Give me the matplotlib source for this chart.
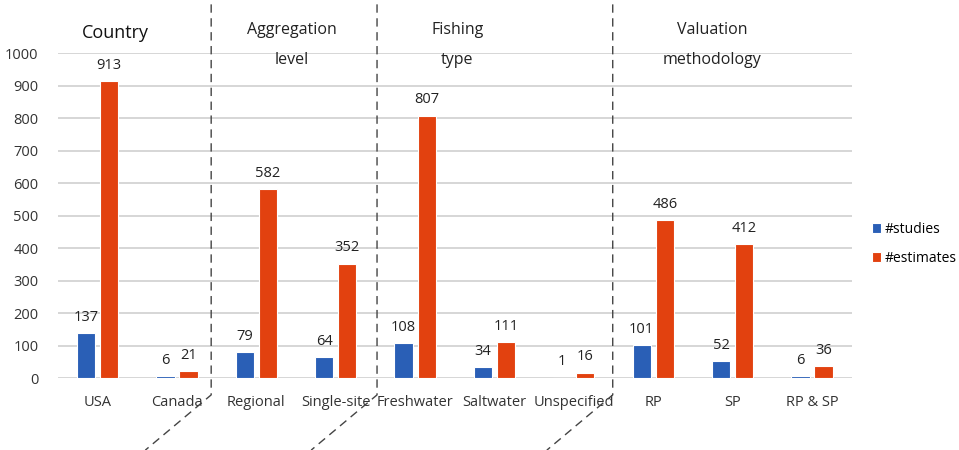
import matplotlib.pyplot as plt
import numpy as np

plt.rcParams['font.family'] = ['Open Sans', 'DejaVu Sans']

categories = ['USA', 'Canada', 'Regional', 'Single-site', 'Freshwater',
              'Saltwater', 'Unspecified', 'RP', 'SP', 'RP & SP']
studies = [137, 6, 79, 64, 108, 34, 1, 101, 52, 6]
estimates = [913, 21, 582, 352, 807, 111, 16, 486, 412, 36]
group_titles = [('Country', 0.22), ('Aggregation\nlevel', 2.45),
                ('Fishing\ntype', 4.53), ('Valuation\nmethodology', 7.74)]
separators = [1.43, 3.52, 6.49]

blue = '#2A5FB6'
red = '#E2410F'

fig = plt.figure(figsize=(9.59, 4.5), dpi=100)
ax = fig.add_axes([0.0605, 0.16, 0.8275, 0.722])

x = np.arange(len(categories))
w = 0.23
b1 = ax.bar(x - 0.145, studies, w, color=blue, edgecolor='white', linewidth=0.8,
            label='#studies', zorder=3)
b2 = ax.bar(x + 0.145, estimates, w, color=red, edgecolor='white', linewidth=0.8,
            label='#estimates', zorder=3)

for bars, vals in ((b1, studies), (b2, estimates)):
    for rect, v in zip(bars, vals):
        ax.annotate(str(v), (rect.get_x() + rect.get_width() / 2, v),
                    xytext=(0, 6), textcoords='offset points',
                    ha='center', va='bottom', fontsize=10.5, color='#222222')

ax.set_xlim(-0.5, len(categories) - 0.5)
ax.set_ylim(0, 1000)
ax.set_yticks(range(0, 1001, 100))
ax.set_xticks(x)
ax.set_xticklabels(categories, fontsize=10.5, color='#333333')
ax.tick_params(axis='y', labelsize=10.5, colors='#333333', length=0, pad=14)
ax.tick_params(axis='x', length=0, pad=12)
ax.yaxis.grid(True, color='#D0D0D0', linewidth=1.2, zorder=0)
for s in ax.spines.values():
    s.set_visible(False)

# group headers
for txt, xpos in group_titles:
    if '\n' in txt:
        top, bottom = txt.split('\n')
        ax.text(xpos, 1071, top, ha='center', va='center', fontsize=11.5, color='#222222')
        ax.text(xpos, 978, bottom, ha='center', va='center', fontsize=11.5, color='#222222')
    else:
        ax.text(xpos, 1063, txt, ha='center', va='center', fontsize=13, color='#111111')

# dashed separators with slanted tails
for sx in separators:
    ax.plot([sx, sx, sx - 0.83], [1150, -52, -222], color='#444444', lw=1,
            ls=(0, (6, 4)), clip_on=False, zorder=4)

fig.legend(handles=[b1, b2], loc='center left', bbox_to_anchor=(0.896, 0.458),
           frameon=False, fontsize=10, handlelength=0.7, handleheight=0.7,
           handletextpad=0.25, labelspacing=1.0)

fig.savefig('out.png', dpi=100)
